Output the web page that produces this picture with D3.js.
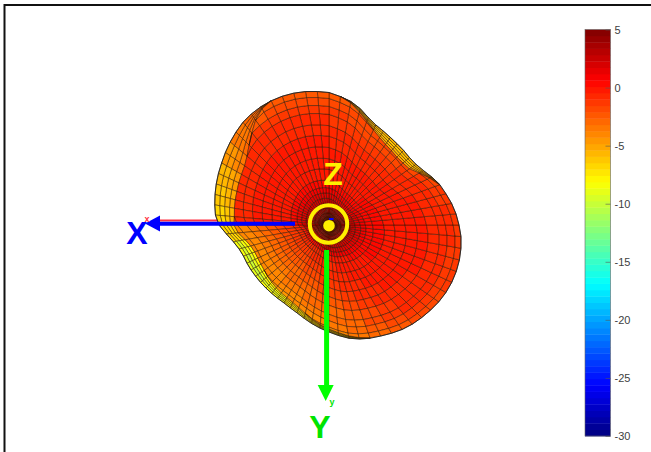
<!DOCTYPE html>
<html>
<head>
<meta charset="utf-8">
<script src="https://cdn.jsdelivr.net/npm/d3@7"></script>
<style>
  html, body { margin: 0; padding: 0; background: #fff; }
  svg { display: block; font-family: "Liberation Sans", Arial, sans-serif; }
  .bar-axis text { fill: #404040; font-size: 11px; }
  .bar-axis path, .bar-axis line { stroke: #555; stroke-width: 0.6; }
</style>
</head>
<body>
<svg id="chart" width="651" height="452"></svg>
<script>
// silhouette radius of the balloon, every 5 deg (0 = towards X, 90 = towards Y)
const outerRadius = [
  110, 103, 97, 93, 91, 90.5, 90, 89.5, 89.3, 89.2, 89.2, 89.5, 90, 91.5, 93.5, 96.5, 100, 103.5,
  107, 111, 115, 118, 120.5, 122.5, 125, 127.5, 129.5, 131, 132.5, 134, 135, 135.5, 135.5, 135, 134, 132.5,
  130, 127.5, 124.5, 121, 118, 113.5, 109, 106, 105, 105.5, 106, 107, 108.5, 110.5, 114.5, 120.5, 125.5, 129,
  132.5, 134, 135.5, 136.5, 137, 137, 136.5, 135.5, 134, 131.5, 129, 126.5, 124, 122, 120, 118, 116, 114
];
// radius where the front face stops and the folded back shows
const frontRadius = [
  95, 91, 85, 81, 79, 78.5, 78.5, 79, 80, 81, 82, 83, 84, 85.5, 88, 91.5, 96, 100,
  104, 108, 112.5, 116.5, 120, 122.5, 125, 127.5, 129.5, 131, 132.5, 134, 135, 135.5, 135.5, 135, 134, 132.5,
  130, 127.5, 124.5, 121, 117.5, 111, 104, 98, 96.5, 96, 97, 98.5, 101, 105, 110.5, 117, 124, 129,
  132.5, 134, 135.5, 136.5, 137, 137, 134, 128, 120, 113, 107, 103, 101, 99.5, 98, 97, 96, 95
];
const ringFractions = [0, 0.03, 0.06, 0.09, 0.125, 0.16, 0.2, 0.24, 0.28, 0.335, 0.42, 0.5, 0.585, 0.67, 0.75, 0.835, 0.895, 0.955, 1];
const backFractions = [0, 0.25, 0.5, 0.75, 1];

// gain in dB, one row per ring, one column per 10 deg
const frontGain = [
  [4.5,4.5,4.5,4.5,4.5,4.5,4.5,4.5,4.5,4.5,4.5,4.5,4.5,4.5,4.5,4.5,4.5,4.5,4.5,4.5,4.5,4.5,4.5,4.5,4.5,4.5,4.5,4.5,4.5,4.5,4.5,4.5,4.5,4.5,4.5,4.5],
  [4,4,4,4,4,4,4,4,4,4,4,4,4,4,4,4,4,4,4,4,4,4,4,4,4,4,4,4,4,4,4,4,4,4,4,4],
  [3.5,3.5,3.5,3.5,3.5,3.5,3.5,3.5,3.5,3.5,3.5,3.5,3.5,3.5,3.5,3.5,3.5,3.5,3.5,3.5,3.5,3.5,3.5,3.5,3.5,3.5,3.5,3.5,3.5,3.5,3.5,3.5,3.5,3.5,3.5,3.5],
  [3,3,3,3,3,3,3,3,3,3,3,3,3,3,3,3,3,3,3,3,3,3,3,3,3,3,3,3,3,3,3,3,3,3,3,3],
  [2.5,2.5,2.5,2.5,2.5,2.5,2.5,2.5,2.5,2.5,2.5,2.5,2.5,2.5,2.5,2.5,2.5,2.5,2.5,2.5,2.5,2.5,2.5,2.5,2.5,2.5,2.5,2.5,2.5,2.5,2.5,2.5,2.5,2.5,2.5,2.5],
  [2,2,2,2,2,2,2,2,2,2,2,2,2,2,2,2,2,2,2,2,2,2,2,2,2,2,2,2,2,2,2,2,2,2,2,2],
  [1.2,1.2,1.5,1.5,1.5,1.5,1.5,1.5,1.5,1.5,1.5,1.5,1.5,1.5,1.5,1.5,1.5,1.5,1.5,1.5,1.5,1.5,1.5,1.5,1.5,1.5,1.5,1.5,1.5,1.5,1.5,1.5,1.5,1.5,1.5,1.5],
  [0,0,0.3,0.3,0.5,0.5,0.6,0.8,0.8,0.8,1,1,1,1,1,1,1,1,1,1,1,1,1,1,1,1,1,1,1,1,1,1,1,1,1,1],
  [-1,-1,-1,-1,-1,-0.8,-0.6,-0.5,-0.3,-0.2,-0.1,0,0.2,0.2,0.2,0.2,0.2,0.2,0.2,0.2,0.2,0.2,0.2,0.2,0.2,0.2,0.2,0.2,0.2,0.2,0.2,0.2,0.2,0.2,0.2,0.2],
  [-1.5,-1.5,-1.5,-1.5,-1.5,-1.2,-1,-0.8,-0.6,-0.5,-0.3,-0.2,0,0,0.1,0.1,0.1,0.1,0.1,0.1,0.1,0.1,0,0,0,0,0,0,0,0,0,0,0,0,0,0],
  [-2,-2,-2,-2,-2,-1.8,-1.5,-1.2,-1,-0.8,-0.6,-0.4,-0.1,-0.1,0,0,0,0,0,0,-0.1,-0.1,-0.2,-0.2,-0.2,-0.2,-0.1,-0.1,-0.1,-0.1,-0.1,-0.1,-0.1,-0.1,-0.1,-0.1],
  [-2.5,-2.5,-2.5,-2.5,-2.5,-2.3,-2,-1.7,-1.5,-1.2,-1,-0.7,-0.2,-0.1,-0.1,-0.1,-0.1,-0.1,-0.1,-0.1,-0.1,-0.2,-0.4,-0.4,-0.4,-0.4,-0.3,-0.2,-0.2,-0.2,-0.2,-0.2,-0.2,-0.2,-0.2,-0.2],
  [-3,-3,-3,-3,-3,-2.8,-2.5,-2.2,-2,-1.7,-1.4,-1,-0.5,-0.3,-0.3,-0.2,-0.2,-0.2,-0.2,-0.2,-0.3,-0.4,-0.6,-0.6,-0.6,-0.6,-0.5,-0.4,-0.4,-0.4,-0.4,-0.4,-0.4,-0.4,-0.4,-0.4],
  [-3.4,-3.4,-3.4,-3.4,-3.4,-3.2,-3,-2.7,-2.5,-2.2,-1.8,-1.3,-0.8,-0.5,-0.5,-0.4,-0.4,-0.3,-0.3,-0.4,-0.5,-0.7,-0.9,-0.9,-0.9,-0.9,-0.8,-0.7,-0.7,-0.7,-0.7,-0.7,-0.6,-0.6,-0.6,-0.6],
  [-3.8,-3.8,-3.8,-3.8,-3.8,-3.6,-3.4,-3.2,-3,-2.7,-2.2,-1.7,-1.1,-0.7,-0.7,-0.6,-0.6,-0.5,-0.5,-0.6,-0.7,-1,-1.2,-1.2,-1.2,-1.2,-1.1,-1,-1,-1,-1,-1,-0.9,-0.8,-0.8,-0.8],
  [-4.2,-4.2,-4.2,-4.2,-4.2,-4,-3.8,-3.7,-3.5,-3.2,-2.7,-2.1,-1.4,-1,-1,-0.9,-0.8,-0.7,-0.7,-0.8,-1,-1.3,-1.6,-1.6,-1.6,-1.6,-1.5,-1.4,-1.4,-1.4,-1.5,-1.5,-1.3,-1,-1,-1.1],
  [-4.6,-4.6,-4.6,-4.6,-4.6,-4.4,-4.2,-4.1,-4,-3.6,-3.1,-2.5,-1.8,-1.3,-1.3,-1.2,-1.1,-1,-1,-1.1,-1.3,-1.7,-2,-2,-2,-2,-2,-1.9,-1.9,-1.9,-2.2,-2.1,-1.7,-1.3,-1.3,-1.4],
  [-5,-5,-5,-5,-5,-4.8,-4.6,-4.6,-4.5,-4,-3.5,-3,-2.2,-1.6,-1.6,-1.5,-1.4,-1.3,-1.3,-1.4,-1.6,-2.1,-2.6,-2.6,-2.6,-2.6,-2.6,-2.5,-2.5,-2.5,-2.8,-2.7,-2.2,-1.7,-1.7,-1.8]
];
// gain on the folded back, from the front edge to the silhouette
const backGain = [
  [-6,-8,-8,-8,-8,-8,-7,-7,-7,-7,-7,-6,-5,-4,-4,-4,-4,-4,-4,-4,-5,-5,-5,-5,-5,-5,-4,-4,-4,-4,-3,-3.2,-3.5,-4.5,-5,-5.5],
  [-6.5,-8.5,-9,-9,-8.5,-8.5,-7.5,-7.5,-7.5,-7.5,-7.5,-6.5,-5,-4,-4,-4,-4,-4,-4,-4,-5,-5.5,-5.5,-5.5,-5.5,-5.5,-4,-4,-4,-4,-3,-3.5,-4,-5,-5.5,-6],
  [-7,-9.5,-10,-10,-9.5,-9,-8,-8,-8,-8,-8,-7,-5,-4,-4,-4,-4,-4,-4,-4,-5,-6,-6,-6,-6,-6,-4,-4,-4,-4,-3,-3.5,-4.5,-5.5,-6,-6.5],
  [-7,-8.5,-9,-9,-8.5,-8.5,-7.5,-7.5,-7.5,-7.5,-7.5,-6.5,-5,-4,-4,-4,-4,-4,-4,-4,-5,-5.5,-5.5,-5.5,-5.5,-5.5,-4,-4,-4,-4,-3,-3.5,-4.5,-5.5,-6,-6.5]
];
const barTicks = [5, 0, -5, -10, -15, -20, -25, -30];
const gainRange = [-30, 5];
const levelCount = 64;

const svg = d3.select("#chart");

// MATLAB jet, one colour per level
function jet(t) {
  const channel = (c) => Math.round(255 * Math.max(0, Math.min(1, 1.5 - Math.abs(4 * t - c))));
  return `rgb(${channel(3)},${channel(2)},${channel(1)})`;
}
const levels = d3.range(levelCount).map((i) => jet((i + 0.5) / levelCount));
const color = d3.scaleQuantize().domain(gainRange).range(levels);

const x = d3.scaleLinear().domain([-150, 150]).range([479, 179]);
const y = d3.scaleLinear().domain([-150, 150]).range([75, 375]);
const polar = (r, index) => {
  const a = (index * 5 * Math.PI) / 180;
  return [x(r * Math.cos(a)), y(r * Math.sin(a))];
};
const polygon = d3.line();

const spokes = d3.range(outerRadius.length);
const next = (j) => (j + 1) % spokes.length;

// frame, only left and top like the original axes box
svg.append("path").attr("d", "M4.5,452V5H651").attr("fill", "none").attr("stroke", "#111").attr("stroke-width", 2);

// red axis line lies behind the surface
svg.append("line")
  .attr("x1", x(170)).attr("x2", x(100))
  .attr("y1", y(-4.5)).attr("y2", y(-4.5))
  .attr("stroke", "#ff3344").attr("stroke-width", 2);

const backCells = [];
const frontCells = [];
// rings keep the silhouette shape and get cut off where the face folds over
const ringRadius = (index, f) => Math.min(outerRadius[index] * f, frontRadius[index]);
const band = (index, f) => frontRadius[index] + (outerRadius[index] - frontRadius[index]) * f;
spokes.forEach((j) => {
  const column = Math.floor(j / 2);
  const n = next(j);
  if (outerRadius[j] - frontRadius[j] > 0.5 || outerRadius[n] - frontRadius[n] > 0.5) {
    backGain.forEach((row, k) => {
      backCells.push({
        gain: row[column],
        points: [
          polar(band(j, backFractions[k]), j),
          polar(band(n, backFractions[k]), n),
          polar(band(n, backFractions[k + 1]), n),
          polar(band(j, backFractions[k + 1]), j),
        ],
      });
    });
  }
  frontGain.forEach((row, k) => {
    const innerA = ringRadius(j, ringFractions[k]);
    const innerB = ringRadius(n, ringFractions[k]);
    const outerA = ringRadius(j, ringFractions[k + 1]);
    const outerB = ringRadius(n, ringFractions[k + 1]);
    // cells past the fold collapse to nothing
    if (outerA - innerA < 0.01 && outerB - innerB < 0.01) return;
    frontCells.push({
      gain: row[column],
      points: [polar(innerA, j), polar(innerB, n), polar(outerB, n), polar(outerA, j)],
    });
  });
});

const mesh = svg.append("g").attr("class", "mesh");
[backCells, frontCells].forEach((cells) => {
  mesh.append("g")
    .selectAll("path")
    .data(cells)
    .join("path")
    .attr("d", (d) => polygon(d.points) + "Z")
    .attr("fill", (d) => color(d.gain))
    .attr("stroke", "#2a1200")
    .attr("stroke-opacity", 0.7)
    .attr("stroke-width", 0.7);
});

svg.append("path")
  .attr("d", polygon(spokes.map((j) => polar(outerRadius[j], j))) + "Z")
  .attr("fill", "none")
  .attr("stroke", "#222")
  .attr("stroke-width", 0.9);

// arrows
function arrow(x1, y1, x2, y2, head, stroke, width) {
  svg.append("line")
    .attr("x1", x(x1)).attr("y1", y(y1))
    .attr("x2", x(x2)).attr("y2", y(y2))
    .attr("stroke", stroke).attr("stroke-width", width);
  svg.append("path").attr("d", polygon(head.map((p) => [x(p[0]), y(p[1])])) + "Z").attr("fill", stroke);
}
arrow(34, -1.2, 170, -1.2, [[184, -1.6], [169, -9.5], [169, 6.5]], "#0000ff", 4);
arrow(2.4, 25, 2.4, 162, [[3.3, 176], [-4.7, 160], [11.3, 160]], "#00ff00", 5);

// small blue tip of the z axis seen head on
svg.append("line")
  .attr("x1", x(0)).attr("x2", x(-4.5))
  .attr("y1", y(-6)).attr("y2", y(-6))
  .attr("stroke", "#0000ff").attr("stroke-width", 2);

// z marker
svg.append("circle")
  .attr("cx", x(0.5)).attr("cy", y(-1))
  .attr("r", 18.7)
  .attr("fill", "none")
  .attr("stroke", "#fff000")
  .attr("stroke-width", 4);
svg.append("circle")
  .attr("cx", x(0)).attr("cy", y(0.7))
  .attr("r", 5.8)
  .attr("fill", "#fff000");

const label = (text, dx, dy, fill, size) =>
  svg.append("text")
    .attr("x", x(dx)).attr("y", y(dy))
    .attr("text-anchor", "middle")
    .attr("font-weight", "bold")
    .attr("font-size", size)
    .attr("fill", fill)
    .text(text);
label("X", 192, 19, "#0000ff", 32);
label("Y", 9, 212.5, "#00e400", 32);
label("Z", -4, -40, "#fff000", 32);
label("x", 182, -3.5, "#ff3344", 9);
label("y", -3, 180, "#00e400", 9);

// colorbar
const barTop = 29.5;
const barBottom = 436;
const barScale = d3.scaleLinear().domain([gainRange[1], gainRange[0]]).range([barTop, barBottom]);
const bar = svg.append("g").attr("transform", "translate(585,0)");
bar.selectAll("rect")
  .data(levels)
  .join("rect")
  .attr("x", 0)
  .attr("width", 25.5)
  .attr("y", (d, i) => barScale(gainRange[0] + ((i + 1) * 35) / levelCount))
  .attr("height", (barBottom - barTop) / levelCount + 0.4)
  .attr("fill", (d) => d);
bar.append("rect")
  .attr("x", 0).attr("y", barTop)
  .attr("width", 25.5).attr("height", barBottom - barTop)
  .attr("fill", "none")
  .attr("stroke", "#666")
  .attr("stroke-width", 0.6);
const barAxis = svg.append("g")
  .attr("class", "bar-axis")
  .attr("transform", "translate(610.5,0)")
  .call(d3.axisRight(barScale).tickValues(barTicks).tickFormat((d) => String(d)).tickSize(-5).tickPadding(4));
barAxis.select(".domain").remove();
</script>
</body>
</html>
